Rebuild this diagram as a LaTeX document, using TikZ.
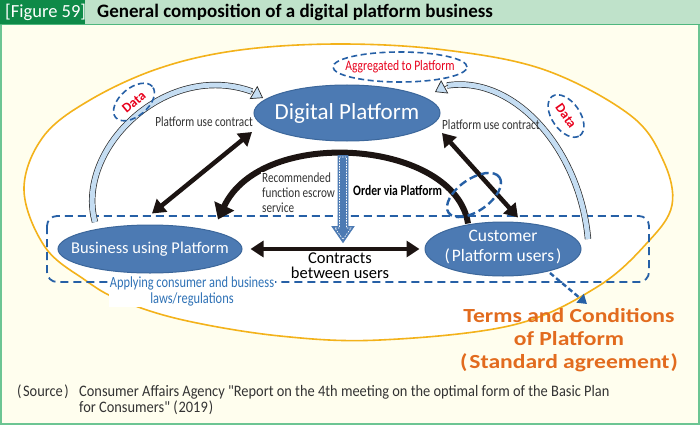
\documentclass[tikz,border=0pt]{standalone}
\usepackage{fontspec}
\setmainfont{Carlito}
\newfontfamily\cond[FakeStretch=0.8]{Carlito}
\newfontfamily\semi[FakeStretch=0.9]{Carlito}
\newfontfamily\wide[FakeStretch=1.18]{Carlito}
\usetikzlibrary{arrows.meta,shapes.geometric,calc}
\newcommand\myfs[2]{\fontsize{#1}{#2}\selectfont}
\definecolor{bgcream}{HTML}{FFFEEE}
\definecolor{hdrgreen}{HTML}{BFE2CA}
\definecolor{hdrline}{HTML}{4FB77E}
\definecolor{labgreen}{HTML}{0E8A48}
\definecolor{framegreen}{HTML}{6CC593}
\definecolor{ellorange}{HTML}{F3B21A}
\definecolor{nodeblue}{HTML}{4C7AB3}
\definecolor{nodeedge}{HTML}{3C679B}
\definecolor{dashblue}{HTML}{2660A6}
\definecolor{lightband}{HTML}{C5DDF2}
\definecolor{bandedge}{HTML}{2A2A2A}
\definecolor{arrowblack}{HTML}{1C1412}
\definecolor{textgray}{HTML}{333333}
\definecolor{apptext}{HTML}{2F72B6}
\definecolor{termorange}{HTML}{E26B1E}
\definecolor{datared}{HTML}{E8001C}
\begin{document}
\begin{tikzpicture}[x=1pt,y=-1pt,
 pnode/.style={ellipse, fill=nodeblue, draw=nodeedge, line width=1pt, inner sep=0pt},
 ptext/.style={text=white, align=center, inner sep=0pt},
 dbl/.style={draw=arrowblack, line width=4.5pt, {Triangle[length=13pt,width=16pt]}-{Triangle[length=13pt,width=16pt]}},
 dashedge/.style={draw=dashblue, line width=1.8pt, dash pattern=on 8pt off 5pt},
 dataell/.style={ellipse, draw=dashblue, line width=1.6pt, dash pattern=on 6pt off 3.5pt, inner sep=0pt},
 band/.style={draw=bandedge, line width=0.7pt, double=lightband, double distance=5pt},
 bandhead/.style={draw=bandedge, line width=0.7pt, -{Triangle[length=11pt,width=15pt,fill=lightband]}},
 small/.style={font=\cond\myfs{14}{15}, text=textgray, inner sep=1pt},
]
\useasboundingbox (0,0) rectangle (700,425);
% background and header
\fill[bgcream] (0,0) rectangle (700,425);
\fill[hdrgreen] (0,0) rectangle (700,24);
\draw[framegreen, line width=2pt] (1,24) -- (1,424) -- (699,424) -- (699,24);
\draw[hdrline, line width=1.5pt] (0,24.5) -- (700,24.5);
\fill[labgreen] (0,0) rectangle (85,24);
\node[anchor=west, text=white, font=\myfs{18.5}{19}, inner sep=0pt] (figlab) at (5,12.5) {[Figure 59]};
\node[anchor=west, text=black, font=\bfseries\myfs{19}{20}, inner sep=0pt] (title) at (97,12.5) {General composition of a digital platform business};
% outer ellipse
\draw[ellorange, fill=white, line width=1.6pt] plot[smooth cycle, tension=0.6] coordinates {
 (340,44) (445,50) (545,70) (630,115) (663,160) (672,205) (647,243) (597,287) (513,325) (380,340)
 (280,336) (183,320) (120,300) (85,280) (45,247) (24,190) (43,137) (90,100) (160,68) (240,50)};
% dashed group rectangle
\draw[dashedge, rounded corners=10pt] (47,216) rectangle (649,282);
% nodes
\node[pnode, minimum width=186pt, minimum height=56pt] (dp) at (347,113) {};
\node[pnode, minimum width=184pt, minimum height=48pt] (biz) at (150,249) {};
\node[pnode, minimum width=156pt, minimum height=54pt] (cust) at (503,249) {};
% light blue bands (platform use contract)
\draw[band] ([shift={(-55,-27)}]biz.center) .. controls (75,150) and (165,60) .. (252,91.5);
\draw[bandhead] (251,91) -- (263,98);
\draw[band] ([shift={(85,-10)}]cust.center) .. controls (580,150) and (515,75) .. (447,85.5);
\draw[bandhead] (448,85) -- (435,92);
% black double arrows
\draw[dbl] ([shift={(2,-11)}]biz.north) -- ([shift={(-95,19)}]dp.center);
\draw[dbl] ([shift={(95,20)}]dp.center) -- ([shift={(15,-4)}]cust.north);
\draw[dbl] ([xshift=8pt]biz.east) -- ([xshift=-5pt]cust.west);
% order via platform arc
\draw[draw=arrowblack, line width=6pt, -{Triangle[length=15pt,width=21pt]}]
 ([shift={(-35,2)}]cust.north) .. controls (455,140) and (262,125) .. ([shift={(68,-5)}]biz.north);
% blue order arrow
\coordinate (oS) at ([shift={(-4,14)}]dp.south);
\filldraw[fill=nodeblue, draw=nodeblue, line width=0.8pt]
 ($(oS)+(-5,0)$) -- ($(oS)+(5,0)$) -- ($(oS)+(5,71)$) -- ($(oS)+(11,71)$) -- ($(oS)+(0,87)$)
 -- ($(oS)+(-11,71)$) -- ($(oS)+(-5,71)$) -- cycle;
\draw[white, line width=0.6pt, dash pattern=on 1.5pt off 1.2pt]
 ($(oS)+(-3.5,1.5)$) -- ($(oS)+(3.5,1.5)$) -- ($(oS)+(3.5,72.5)$) -- ($(oS)+(8,72.5)$) -- ($(oS)+(0,84)$)
 -- ($(oS)+(-8,72.5)$) -- ($(oS)+(-3.5,72.5)$) -- cycle;
% node texts
\node[ptext, font=\myfs{23}{24}] (dpt) at (dp.center) {Digital Platform};
\node[ptext, font=\myfs{16.5}{18}] (bizt) at (biz.center) {Business using Platform};
\node[ptext, font=\myfs{17.5}{20}] (custt) at ([yshift=1.5pt]cust.center) {Customer\\(\hspace{2pt}Platform users\hspace{2pt})};
% labels
\node[small, anchor=east] (puc1) at (254,122) {Platform use contract};
\node[small, anchor=west] (puc2) at (441,125) {Platform use contract};
\node[small, anchor=north west, align=left, fill=white] (rec) at (261,172) {Recommended\\function escrow\\service};
\node[small, anchor=west, text=black, font=\cond\bfseries\myfs{14.5}{15}] (ovp) at (352,190) {Order via Platform};
\node[align=center, fill=white, inner sep=1pt, font=\myfs{16.5}{15}, text=black] (ctr) at (340,266) {Contracts\\between users};
\node[align=center, fill=white, inner sep=1pt, font=\cond\myfs{15.5}{16}, text=apptext] (app) at (192,291) {Applying consumer and business\\laws/regulations};
% data / aggregated ellipses
\node[dataell, minimum width=134pt, minimum height=30pt] (agg) at (400,67) {};
\node[text=datared, font=\cond\myfs{14.5}{15}, inner sep=0pt] (aggt) at (agg.center) {Aggregated to Platform};
\node[dataell, minimum width=48pt, minimum height=28pt, rotate=40, text=datared, font=\bfseries\myfs{13.5}{14}] (d1) at (134,102) {Data};
\node[dataell, minimum width=48pt, minimum height=28pt, rotate=-55, text=datared, font=\bfseries\myfs{13.5}{14}] (d2) at (566,116) {Data};
\node[ellipse, draw=dashblue, line width=2.4pt, dash pattern=on 8pt off 4pt, minimum width=62pt, minimum height=32pt, rotate=35, inner sep=0pt] (sel) at (474,195) {};
% terms
\node[align=center, text=termorange, font=\wide\bfseries\myfs{20}{23}, inner sep=0pt] (terms) at (569,340) {Terms and Conditions\\of Platform\\(\hspace{2pt}Standard agreement\hspace{1pt})};
\coordinate (tgt) at (587,304);
\draw[dashblue, line width=2.4pt, dash pattern=on 5pt off 3pt, -{Triangle[length=9pt,width=11pt]}] ([shift={(47,24)}]cust.center) -- (tgt);
% source
\node[anchor=west, font=\semi\myfs{16}{16}, text=textgray, inner sep=0pt] (src) at (17,392) {(\hspace{1.5pt}Source\hspace{1.5pt})};
\node[anchor=north west, align=left, font=\semi\myfs{16}{16}, text=textgray, inner sep=0pt] (srct) at (79,385) {Consumer Affairs Agency "Report on the 4th meeting on the optimal form of the Basic Plan\\for Consumers" (\hspace{1pt}2019\hspace{1pt})};
\end{tikzpicture}
\end{document}
